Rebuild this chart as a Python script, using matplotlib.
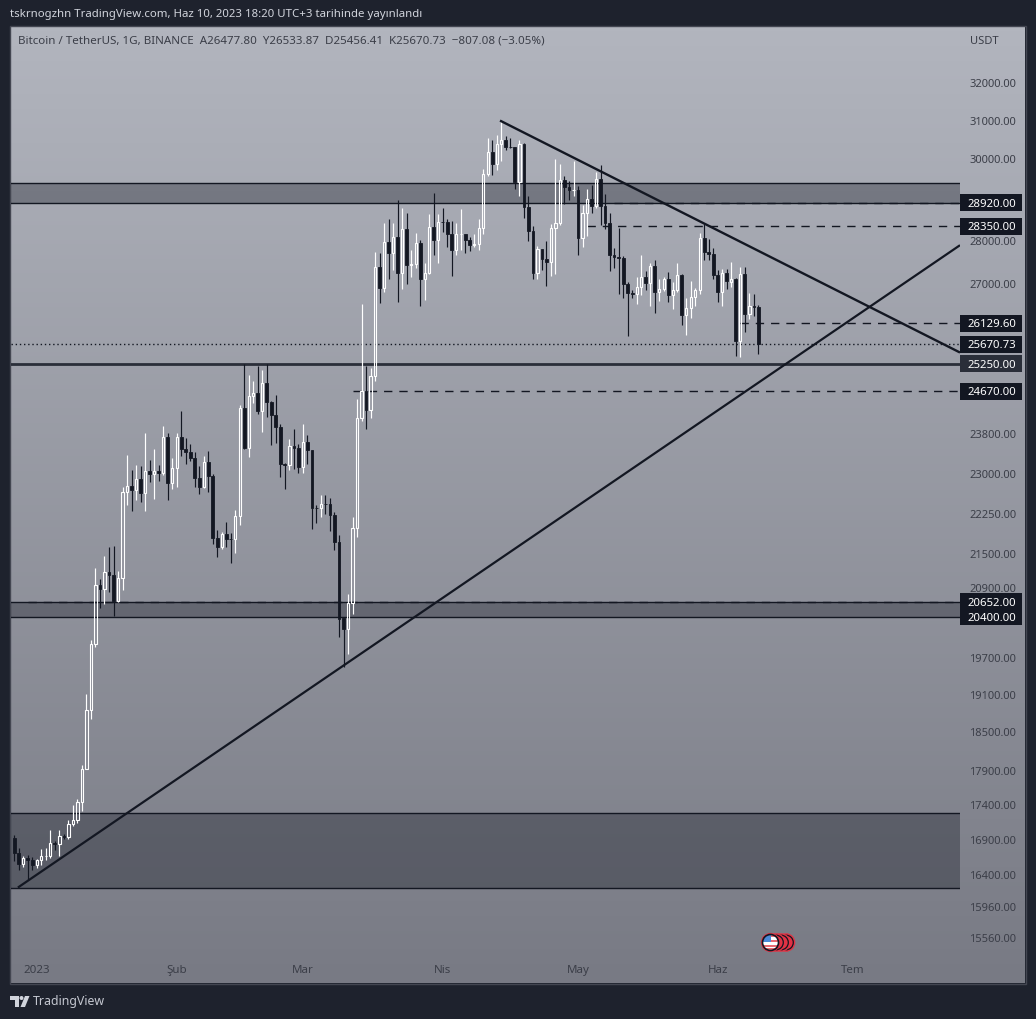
import numpy as np
import matplotlib
matplotlib.use("Agg")
import matplotlib.pyplot as plt
from matplotlib.patches import Rectangle, Circle, Polygon

plt.rcParams['font.family'] = ['Noto Sans', 'DejaVu Sans']

# Daily candles, 27 Dec 2022 (index 0) to 10 Jun 2023
OPEN = [16919,16707,16552,16633,16608,
 16542,16617,16673,16674,16851,16831,16950,16943,17127,17179,17440,17944,18846,19930,20955,20872,21185,21134,20677,21071,22667,22783,22707,22917,22633,23060,23009,23074,23031,23743,22827,
 23125,23732,23491,23431,23327,22933,22763,23249,22963,21797,21626,21862,21783,21773,22199,24324,23522,24568,24632,24272,24838,24439,24188,23947,23198,23175,23561,23522,
 23147,23646,23476,22362,22354,22435,22429,22216,21718,20367,20187,20632,21989,24113,24670,24285,24998,27395,26907,27972,27717,28105,27250,28300,27454,27462,27968,27124,27261,28348,28028,
 28465,28452,28171,27800,28165,28170,28033,27906,27938,28323,29637,30200,29884,30390,30485,30317,30315,29445,30397,28823,28245,27263,27817,27591,27514,28307,28422,29472,29311,29233,
 29233,28068,28669,29026,28838,29506,28848,28430,27668,27628,27600,27000,26800,26770,26930,27170,27020,27410,26830,26890,27110,26760,26870,27220,26300,26470,26720,26870,28080,27740,27690,
 27210,26820,27260,27060,27120,25730,27230,26340,26500,26477.80]
HIGH = [16972,16785,16664,16677,16650,
 16628,16760,16780,17040,16884,17040,16980,17176,17398,17490,18000,19117,19992,21259,21050,21474,21640,21650,21192,22755,23376,23078,23180,23162,23816,23282,23500,23185,23960,23810,23320,
 23812,24255,23715,23587,23433,23158,23350,23452,23011,21938,21906,22090,21894,22322,24380,25250,25021,24877,25192,25121,25250,24476,24600,23997,23219,23689,23900,23600,
 24000,23780,23479,22412,22603,22602,22555,22282,21850,20367,20792,22185,24500,26553,25196,25167,27756,27724,28440,28528,28439,28999,28800,28668,27787,28194,28033,27500,28650,29171,28660,
 28803,28528,28480,28444,28775,28180,28100,28160,28530,29770,30550,30500,30620,31000,30590,30550,30315,30485,30411,29100,28371,27880,27820,28000,28400,30020,29890,29590,29460,29969,
 29337,28880,29266,29370,29677,29850,29138,28664,27830,28322,27662,27050,26860,27170,27670,27300,27490,27570,27120,27160,27280,27050,27490,27230,26700,27080,26920,28200,28430,28060,27835,
 27330,27350,27340,27520,27150,27390,27400,26800,26770,26533.87]
LOW = [16592,16470,16508,16333,16470,
 16499,16548,16610,16646,16757,16670,16908,16908,17101,17142,17315,17934,18714,19888,20550,20611,20833,20407,20659,20859,22422,22292,22500,22462,22300,22850,22534,22878,22985,22500,22714,
 22760,23363,23206,23253,22750,22628,22745,22665,21688,21451,21599,21632,21351,21532,22047,23505,23339,24430,24192,23840,24148,23574,23608,22950,22722,23077,23106,23020,
 23020,23195,21971,22077,22185,22250,21927,21580,20044,19549,19765,20448,21813,24060,23896,24123,24890,26578,26827,27124,27320,26601,26900,27000,27156,27373,26508,26635,27240,27670,27500,
 28230,27862,27200,27670,27800,27725,27770,27860,27800,28170,29590,29620,29740,29950,30230,30280,29250,29080,28560,28010,27125,27120,27337,26970,27200,27235,28390,28900,29000,29083,
 27666,27870,28120,28670,28800,28378,28300,27300,27379,26777,26700,25840,26680,26545,26750,26880,26500,26360,26620,26850,26600,26450,26830,26090,25870,26240,26500,26790,27570,27560,27130,
 26600,26500,26890,26950,25420,25400,25930,26230,26280,25456.41]
CLOSE = [16707,16552,16633,16608,16542,
 16616,16673,16674,16851,16831,16950,16943,17127,17178,17440,17944,18846,19930,20955,20872,21185,21134,20677,21071,22667,22783,22707,22916,22632,23060,23009,23074,23031,23743,22827,23125,
 23733,23491,23431,23327,22933,22763,23249,22963,21797,21626,21862,21783,21773,22199,24324,23522,24568,24631,24271,24838,24439,24188,23947,23198,23175,23561,23522,23147,
 23646,23476,22362,22354,22435,22429,22219,21718,20363,20187,20632,21989,24113,24670,24285,24998,27395,26907,27972,27717,28105,27250,28300,27454,27462,27968,27124,27261,28348,28028,28465,
 28452,28171,27800,28165,28170,28033,27906,27938,28323,29637,30200,29884,30390,30485,30317,30315,29445,30397,28823,28245,27263,27817,27591,27514,28307,28422,29472,29311,29230,29233,
 28068,28669,29026,28838,29506,28848,28430,27668,27628,27600,27000,26800,26770,26930,27170,27020,27410,26830,26890,27110,26760,26870,27220,26300,26470,26720,26870,28080,27740,27690,27210,
 26830,27260,27070,27120,25730,27230,26340,26500,26480,25670.73]

ZONE_LOW = [28920, 20400, 16220]
ZONE_HIGH = [29410, 20652, 17280]
DASH_PRICE = [28920, 28350, 26129.60, 24670, 20652]
DASH_START = [133, 127, 161, 75, 3]
SUPPORT = 25250
LAST = 25670.73
TREND_UP_X = [0.8, 209.7]
TREND_UP_Y = [16230, 27906]
TREND_DOWN_X = [107.7, 209.7]
TREND_DOWN_Y = [31000, 25490]
Y_TICKS = [32000,31000,30000,28000,27000,23800,23000,22250,21500,20900,19700,19100,18500,17900,17400,16900,16400,15960,15560]
X_TICKS = [5, 36, 64, 95, 125, 156, 186]
X_LABELS = ['2023', 'Şub', 'Mar', 'Nis', 'May', 'Haz', 'Tem']
TAG_PRICE = [28920, 28350, 26129.60, 25670.73, 25250, 24670, 20652, 20400]
TAG_TEXT = ['28920.00','28350.00','26129.60','25670.73','25250.00','24670.00','20652.00','20400.00']
TAG_COLOR = ['#131722','#131722','#131722','#131722','#2a2e39','#131722','#131722','#131722']

W, H = 1036, 1019
DARK = '#131722'
BG = '#1e222d'
TXT = '#3b3e48'

fig = plt.figure(figsize=(W/100, H/100), dpi=100, facecolor=BG)

# decoration layer in pixel coordinates
ov = fig.add_axes([0, 0, 1, 1], zorder=0)
ov.set_xlim(0, W); ov.set_ylim(H, 0); ov.axis('off')
grad = np.linspace(0, 1, 256)[:, None]
top = np.array([178, 181, 190]) / 255
bot = np.array([120, 122, 132]) / 255
img = (top + (bot - top) * grad[..., None]).reshape(256, 1, 3)
ov.imshow(img, extent=[11, 1025, 983, 27], aspect='auto', zorder=1)
ov.set_xlim(0, W); ov.set_ylim(H, 0)
ov.add_patch(Rectangle((10, 26), 1016, 958, fc='none', ec='#434651', lw=1, zorder=2))

# flag icon
for cx in [786, 781, 776]:
    ov.add_patch(Circle((cx, 942.5), 9.3, fc='#e23344', ec='none', zorder=3))
    ov.add_patch(Circle((cx, 942.5), 7.3, fc='#e23344', ec='#131722', lw=0.9, zorder=3))
ov.add_patch(Circle((770.5, 942.5), 9.6, fc='#e23344', ec='none', zorder=4))
flag = Circle((770.5, 942.5), 8, fc='white', ec='none', zorder=5)
ov.add_patch(flag)
for i, yy in enumerate([934.5, 939.5, 944.5, 948]):
    r = Rectangle((762, yy), 18, 2.6, fc='#e86a72', ec='none', zorder=5)
    ov.add_patch(r); r.set_clip_path(flag)
r = Rectangle((762, 934), 9, 8, fc='#4a8ad8', ec='none', zorder=5)
ov.add_patch(r); r.set_clip_path(flag)
ov.add_patch(Circle((770.5, 942.5), 8, fc='none', ec='#131722', lw=1.2, zorder=6))

# logo
LOGO = '#d1d4dc'
ov.add_patch(Polygon([[10,996],[19,996],[19,1007],[15,1007],[15,1000],[10,1000]], fc=LOGO, ec='none', zorder=3))
ov.add_patch(Circle((21.5, 998), 2, fc=LOGO, ec='none', zorder=3))
ov.add_patch(Polygon([[25,996],[29.5,996],[25,1007],[20.5,1007]], fc=LOGO, ec='none', zorder=3))

fig.text(10/W, 1-15/H, 'tskrnogzhn TradingView.com, Haz 10, 2023 18:20 UTC+3 tarihinde yayınlandı',
         color='#d1d4dc', fontsize=8.22, va='center', ha='left')
fig.text(33/W, 1-1001.5/H, 'TradingView', color='#c4c7d0', fontsize=8.9, fontweight='medium', va='center', ha='left')

# main chart axes: x from px 11 to 960, y from px 27 to 983
ax = fig.add_axes([11/W, 1-983/H, 949/W, 956/H], zorder=2)
ax.patch.set_alpha(0)
for s in ax.spines.values():
    s.set_visible(False)
ax.set_yscale('log')
ax.set_ylim(14974, 33547)
ax.set_xlim(-0.73, 209.7)

# zones
for lo, hi in zip(ZONE_LOW, ZONE_HIGH):
    ax.axhspan(lo, hi, fc='#131722', alpha=0.34, ec='none', zorder=1)
    ax.axhline(lo, color=DARK, lw=1.0, zorder=2)
    ax.axhline(hi, color=DARK, lw=1.0, zorder=2)

# levels
ax.axhline(SUPPORT, color='#2a2e39', lw=2.0, zorder=2)
ax.axhline(LAST, color=DARK, lw=1.0, ls=(0, (1, 2)), zorder=2)
for p, s in zip(DASH_PRICE, DASH_START):
    ax.hlines(p, s, 209.7, color=DARK, lw=1.0, ls=(0, (6, 5)), zorder=2)

# candles
o = np.array(OPEN, float); h = np.array(HIGH, float)
l = np.array(LOW, float); c = np.array(CLOSE, float)
x = np.arange(len(o))
up = c >= o
bt = np.minimum(o, c); tp = np.maximum(o, c)
for mask, col in [(up, 'white'), (~up, DARK)]:
    ax.vlines(x[mask], tp[mask], h[mask], color=col, lw=0.85, zorder=3)
    ax.vlines(x[mask], l[mask], bt[mask], color=col, lw=0.85, zorder=3)
ax.bar(x[up], (tp - bt)[up], bottom=bt[up], width=0.5, fc='none', ec='white', lw=0.8, zorder=3)
ax.bar(x[~up], (tp - bt)[~up], bottom=bt[~up], width=0.62, fc=DARK, ec=DARK, lw=0.6, zorder=3)

# trend lines
ax.plot(TREND_UP_X, TREND_UP_Y, color=DARK, lw=1.6, zorder=4, solid_capstyle='butt')
ax.plot(TREND_DOWN_X, TREND_DOWN_Y, color=DARK, lw=1.7, zorder=4, solid_capstyle='butt')

# axes ticks
ax.yaxis.tick_right()
ax.set_yticks(Y_TICKS)
ax.set_yticklabels([f'{v:.2f}' for v in Y_TICKS])
ax.minorticks_off()
ax.tick_params(axis='y', length=0, pad=6.5, labelcolor=TXT, labelsize=8.0)
ax.set_xticks(X_TICKS)
ax.set_xticklabels(X_LABELS)
ax.tick_params(axis='x', length=0, pad=-13.2, labelcolor=TXT, labelsize=8.3)

# price tags
ytr = ax.get_yaxis_transform()
k = np.exp(8.5 / 1186)
for p, t, col in zip(TAG_PRICE, TAG_TEXT, TAG_COLOR):
    ax.add_patch(Rectangle((1.0, p / k), 62/949, p * k - p / k, transform=ytr, fc=col, ec='none', clip_on=False, zorder=6))
    ax.text(1.0 + 8/949, p, t, transform=ytr, color='white', fontsize=8.2, va='center_baseline', ha='left', fontweight='semibold', zorder=7, clip_on=False)

# header text
ax.text(18, 41, 'Bitcoin / TetherUS, 1G, BINANCE  A26477.80  Y26533.87  D25456.41  K25670.73  −807.08 (−3.05%)',
        transform=ov.transData, color=TXT, fontsize=8.33, va='center', ha='left', zorder=7, clip_on=False)
ax.text(970, 41, 'USDT', transform=ov.transData, color=TXT, fontsize=8.0, va='center', ha='left', zorder=7, clip_on=False)

fig.savefig('out.png', dpi=100, facecolor=BG)
